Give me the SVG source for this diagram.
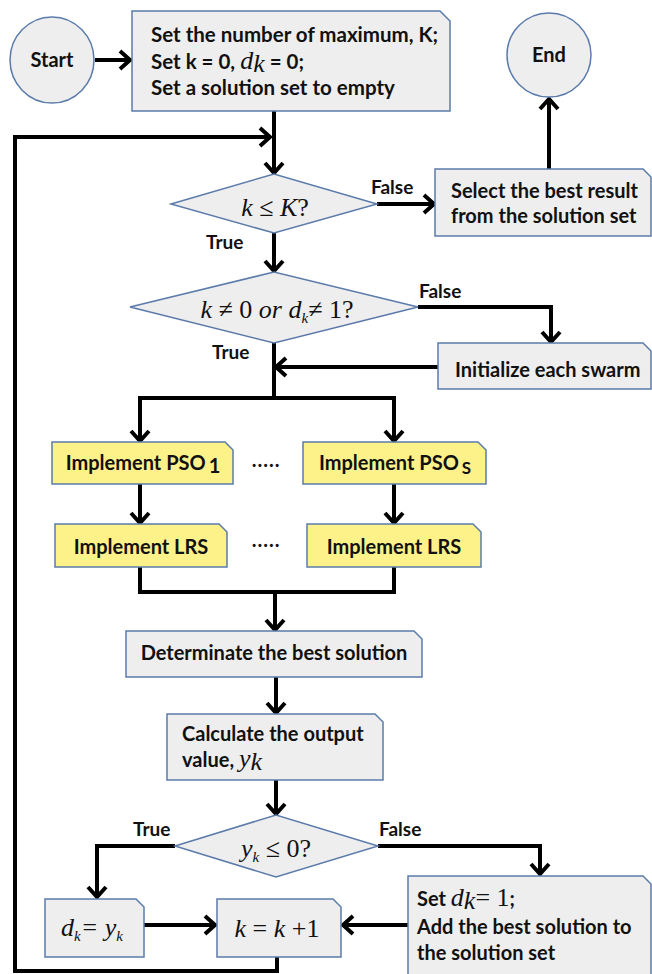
<svg xmlns="http://www.w3.org/2000/svg" width="652" height="974" viewBox="0 0 652 974">
<defs>
<marker id="arr" markerUnits="userSpaceOnUse" markerWidth="24" markerHeight="24" refX="12" refY="10" orient="auto" overflow="visible">
<path d="M2,1 L12,10 L2,19" fill="none" stroke="#000" stroke-width="4" stroke-linejoin="miter"/>
</marker>
</defs>
<style>
.box{fill:#eeeeee;stroke:#5b7bab;stroke-width:1.5}
.yel{fill:#fdf28a;stroke:#5b7bab;stroke-width:1.5}
.t{font-family:Lato,"Liberation Sans",sans-serif;font-weight:bold;font-size:20px;fill:#111}
.tl{font-family:Lato,"Liberation Sans",sans-serif;font-weight:bold;font-size:20.5px;fill:#111}
.lab{font-family:Lato,"Liberation Sans",sans-serif;font-weight:bold;font-size:19px;fill:#111}
.m{font-family:"Liberation Serif","DejaVu Serif",serif;font-style:italic;font-weight:normal;font-size:26px;fill:#111}
.up{font-style:normal}
.c{fill:none;stroke:#000;stroke-width:4}
.ca{fill:none;stroke:#000;stroke-width:4;marker-end:url(#arr)}
</style>

<g id="connectors">
<line class="ca" x1="95" y1="60" x2="130" y2="60"/>
<line class="ca" x1="274" y1="111" x2="274" y2="173"/>
<path class="ca" d="M277,957 V971 H15 V137 H270"/>
<line class="ca" x1="377" y1="204" x2="434" y2="204"/>
<line class="ca" x1="549" y1="169" x2="549" y2="99"/>
<line class="ca" x1="274" y1="233" x2="274" y2="271"/>
<path class="ca" d="M418,307 H551 V342"/>
<line class="c" x1="274" y1="343" x2="274" y2="398"/>
<line class="ca" x1="438" y1="367" x2="276" y2="367"/>
<path class="ca" d="M276,398 H140 V441"/>
<path class="ca" d="M272,398 H394 V441"/>
<line class="ca" x1="140" y1="484" x2="140" y2="523"/>
<line class="ca" x1="394" y1="484" x2="394" y2="523"/>
<path class="c" d="M140,567 V592 H394 V567"/>
<line class="ca" x1="275" y1="592" x2="275" y2="630"/>
<line class="ca" x1="276" y1="677" x2="276" y2="713"/>
<line class="ca" x1="276" y1="780" x2="276" y2="814"/>
<path class="ca" d="M175,846 H97 V897"/>
<path class="ca" d="M378,846 H540 V874"/>
<line class="ca" x1="144" y1="925" x2="215" y2="925"/>
<line class="ca" x1="408" y1="925" x2="343" y2="925"/>
</g>

<g id="start">
<ellipse cx="52" cy="60" rx="42" ry="43" class="box"/>
<text class="t" x="52" y="67" text-anchor="middle" font-size="19">Start</text>
</g>

<g id="init">
<path class="box" d="M132,11 H440 L450,21 V111 H132 Z"/>
<text class="tl" x="151" y="42">Set the number of maximum, K;</text>
<text class="tl" x="151" y="69">Set k = 0, <tspan class="m" font-size="21">d</tspan><tspan class="m" font-size="12" dy="2.5">k</tspan><tspan dy="-2.5"> = 0;</tspan></text>
<text class="tl" x="151" y="95">Set a solution set to empty</text>
</g>

<g id="end">
<ellipse cx="549" cy="55" rx="42" ry="42" class="box"/>
<text class="t" x="549" y="62" text-anchor="middle" font-size="19">End</text>
</g>

<g id="cond1">
<polygon class="box" points="171,204 274,174 377,204 274,233"/>
<text class="m" x="275" y="216" text-anchor="middle" font-size="27">k ≤ K<tspan class="up">?</tspan></text>
<text class="lab" x="371" y="194">False</text>
<text class="lab" x="206" y="249">True</text>
</g>

<g id="select">
<path class="box" d="M435,169 H643 L651,177 V236 H435 Z"/>
<text class="t" x="451" y="198">Select the best result</text>
<text class="t" x="451" y="223">from the solution set</text>
</g>

<g id="cond2">
<polygon class="box" points="130,307 274,272 418,307 274,343"/>
<text class="m" x="277" y="318" text-anchor="middle">k ≠ <tspan class="up">0</tspan> or d<tspan font-size="15" dy="5">k</tspan><tspan dy="-5">≠ </tspan><tspan class="up">1?</tspan></text>
<text class="lab" x="419" y="298">False</text>
<text class="lab" x="212" y="359">True</text>
</g>

<g id="initswarm">
<path class="box" d="M438,343 H643 L651,351 V389 H438 Z"/>
<text class="t" x="455" y="377">Initialize each swarm</text>
</g>

<g id="pso1">
<path class="yel" d="M52,442 H225 L233,450 V484 H52 Z"/>
<text class="t" x="143" y="470" text-anchor="middle" font-size="19.5">Implement PSO<tspan font-size="20" dx="3" dy="3">1</tspan></text>
</g>
<g id="dots1">
<text class="t" x="266" y="467" text-anchor="middle" letter-spacing="1">.....</text>
</g>
<g id="psos">
<path class="yel" d="M303,442 H478 L486,450 V484 H303 Z"/>
<text class="t" x="395" y="470" text-anchor="middle" font-size="19.5">Implement PSO<tspan font-size="17" dx="3" dy="4">S</tspan></text>
</g>

<g id="lrs1">
<path class="yel" d="M55,524 H219 L227,532 V567 H55 Z"/>
<text class="t" x="141" y="554" text-anchor="middle">Implement LRS</text>
</g>
<g id="dots2">
<text class="t" x="266" y="547" text-anchor="middle" letter-spacing="1">.....</text>
</g>
<g id="lrss">
<path class="yel" d="M307,524 H473 L481,532 V567 H307 Z"/>
<text class="t" x="394" y="554" text-anchor="middle">Implement LRS</text>
</g>

<g id="best">
<path class="box" d="M126,631 H414 L422,639 V677 H126 Z"/>
<text class="t" x="274" y="660" text-anchor="middle">Determinate the best solution</text>
</g>

<g id="calc">
<path class="box" d="M167,714 H375 L383,722 V780 H167 Z"/>
<text class="t" x="182" y="741">Calculate the output</text>
<text class="t" x="182" y="767">value, <tspan class="m" font-size="20">y</tspan><tspan class="m" font-size="12" dy="3">k</tspan></text>
</g>

<g id="cond3">
<polygon class="box" points="175,846 276,815 378,846 276,877"/>
<text class="m" x="276" y="857" text-anchor="middle">y<tspan font-size="15" dy="5">k</tspan><tspan dy="-5"> ≤ </tspan><tspan class="up">0?</tspan></text>
<text class="lab" x="133" y="836">True</text>
<text class="lab" x="379" y="836">False</text>
</g>

<g id="dset">
<path class="box" d="M45,899 H136 L144,907 V957 H45 Z"/>
<text class="m" x="92" y="936" text-anchor="middle" font-size="27">d<tspan font-size="15" dy="5">k</tspan><tspan dy="-5">= y</tspan><tspan font-size="15" dy="5">k</tspan></text>
</g>

<g id="inc">
<path class="box" d="M217,899 H333 L341,907 V957 H217 Z"/>
<text class="m" x="277" y="937" text-anchor="middle" font-size="30">k <tspan class="up">=</tspan> k <tspan class="up">+1</tspan></text>
</g>

<g id="add">
<path class="box" d="M408,876 H643 L651,884 V976 H408 Z"/>
<text class="t" x="417" y="906">Set <tspan class="m" font-size="22">d</tspan><tspan class="m" font-size="12" dy="3">k</tspan><tspan class="m up" font-size="22" dy="-3">= 1</tspan>;</text>
<text class="t" x="417" y="934">Add the best solution to</text>
<text class="t" x="417" y="960">the solution set</text>
</g>
</svg>
